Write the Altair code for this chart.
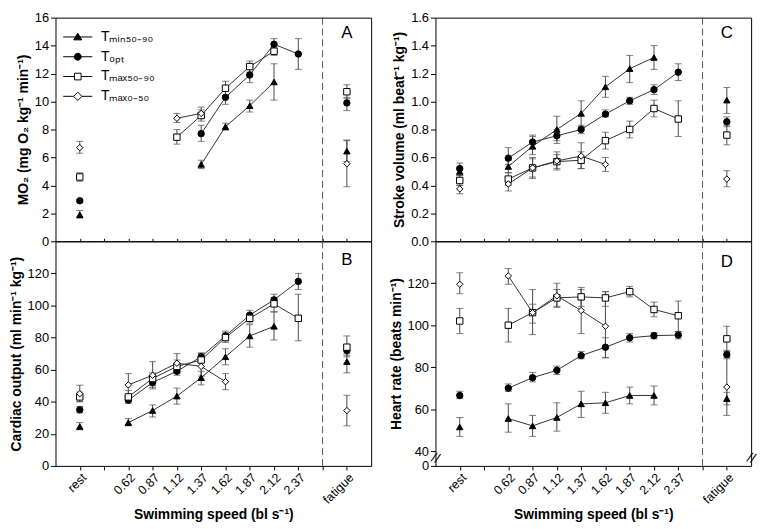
import altair as alt
import pandas as pd

# ---------------- categories / labels ----------------
x_labels = ["rest", "", "0.62", "0.87", "1.12", "1.37", "1.62", "1.87", "2.12", "2.37", "", "fatigue"]
x_ticks = list(range(len(x_labels)))
x_domain = [-1, 12]
separator_pos = [10]
swim_range = [2, 9]
series_names = ["Tₘᵢₙ₅₀₋₉₀", "Tₒₚₜ", "Tₘₐₓ₅₀₋₉₀", "Tₘₐₓ₀₋₅₀"]
series_shapes = ["triangle-up", "circle", "square", "diamond"]
series_fills = ["black", "black", "white", "white"]
series_strokes = ["black", "black", "black", "black"]
legend_paths = [
    "M-2.1,0H2.1M0,-0.55L0.58,0.42L-0.58,0.42Z",
    "M-2.1,0H2.1M0.5,0A0.5,0.5,0,1,1,-0.5,0A0.5,0.5,0,1,1,0.5,0Z",
    "M-2.1,0H-0.48M0.48,0H2.1M-0.48,-0.48H0.48V0.48H-0.48Z",
    "M-2.1,0H-0.6M0.6,0H2.1M0,-0.6L0.6,0L0,0.6L-0.6,0Z",
]

# ---------------- Panel A: MO2 ----------------
a_tmin_x = [0, 5, 6, 7, 8, 11]
a_tmin_y = [1.9, 5.5, 8.2, 9.7, 11.4, 6.45]
a_tmin_lo = [1.65, 5.2, 7.95, 9.25, 10.1, 5.7]
a_tmin_hi = [2.2, 5.8, 8.45, 10.1, 12.7, 7.25]
a_topt_x = [0, 5, 6, 7, 8, 9, 11]
a_topt_y = [2.9, 7.7, 10.3, 11.9, 14.1, 13.4, 9.9]
a_topt_lo = [2.8, 7.15, 9.8, 11.35, 13.7, 12.3, 9.35]
a_topt_hi = [3.0, 8.3, 10.8, 12.45, 14.5, 14.5, 10.3]
a_tmax_x = [0, 4, 5, 6, 7, 8, 11]
a_tmax_y = [4.6, 7.45, 9.0, 10.95, 12.5, 13.6, 10.7]
a_tmax_lo = [4.3, 6.95, 8.6, 10.4, 12.1, 13.3, 10.2]
a_tmax_hi = [4.9, 8.0, 9.4, 11.45, 12.9, 13.9, 11.2]
a_tmax0_x = [0, 4, 5, 11]
a_tmax0_y = [6.7, 8.8, 9.15, 5.55]
a_tmax0_lo = [6.3, 8.5, 8.85, 3.9]
a_tmax0_hi = [7.15, 9.15, 9.6, 7.2]

# ---------------- Panel B: cardiac output ----------------
b_tmin_x = [0, 2, 3, 4, 5, 6, 7, 8, 11]
b_tmin_y = [24.5, 27, 34.5, 43.5, 55, 68, 81, 87, 65]
b_tmin_lo = [22.5, 25, 30.5, 38.5, 50.5, 63, 74, 78.5, 58]
b_tmin_hi = [27, 29.5, 38, 48.5, 59, 73, 88, 96, 70]
b_topt_x = [0, 2, 3, 4, 5, 6, 7, 8, 9, 11]
b_topt_y = [35, 41, 52, 59, 68, 81, 94, 103.5, 115, 72]
b_topt_lo = [33, 39, 49, 56.5, 65, 78, 91, 100, 110, 69]
b_topt_hi = [37, 43, 55, 61.5, 70.5, 84, 97, 107, 120, 75]
b_tmax_x = [0, 2, 3, 4, 5, 6, 7, 8, 9, 11]
b_tmax_y = [43, 43, 54.5, 62, 66, 80, 92, 101, 92, 74]
b_tmax_lo = [40, 40, 50, 58, 62, 77, 89, 96, 78, 68]
b_tmax_hi = [46, 47, 58, 66, 70, 83, 95, 105, 107, 81]
b_tmax0_x = [0, 2, 3, 4, 5, 6, 11]
b_tmax0_y = [45, 50.5, 56.5, 64, 62, 52.5, 34.5]
b_tmax0_lo = [40, 43, 48, 58, 56, 47.5, 25]
b_tmax0_hi = [50.3, 57.5, 65, 70, 68, 57.5, 44]

# ---------------- Panel C: stroke volume ----------------
c_tmin_x = [0, 2, 3, 4, 5, 6, 7, 8, 11]
c_tmin_y = [0.50, 0.535, 0.68, 0.80, 0.915, 1.105, 1.235, 1.315, 1.01]
c_tmin_lo = [0.47, 0.49, 0.62, 0.70, 0.82, 1.03, 1.135, 1.23, 0.915]
c_tmin_hi = [0.53, 0.58, 0.75, 0.895, 1.005, 1.18, 1.33, 1.40, 1.10]
c_topt_x = [0, 2, 3, 4, 5, 6, 7, 8, 9, 11]
c_topt_y = [0.52, 0.595, 0.71, 0.755, 0.80, 0.91, 1.005, 1.085, 1.21, 0.855]
c_topt_lo = [0.48, 0.55, 0.66, 0.72, 0.77, 0.89, 0.98, 1.05, 1.15, 0.82]
c_topt_hi = [0.56, 0.67, 0.76, 0.80, 0.83, 0.94, 1.03, 1.12, 1.27, 0.89]
c_tmax_x = [0, 2, 3, 4, 5, 6, 7, 8, 9, 11]
c_tmax_y = [0.435, 0.445, 0.525, 0.57, 0.58, 0.72, 0.80, 0.95, 0.875, 0.76]
c_tmax_lo = [0.40, 0.40, 0.45, 0.52, 0.52, 0.66, 0.74, 0.89, 0.75, 0.69]
c_tmax_hi = [0.47, 0.49, 0.60, 0.62, 0.64, 0.78, 0.86, 1.01, 1.005, 0.83]
c_tmax0_x = [0, 2, 3, 4, 5, 6, 11]
c_tmax0_y = [0.375, 0.41, 0.525, 0.575, 0.61, 0.55, 0.445]
c_tmax0_lo = [0.34, 0.36, 0.46, 0.51, 0.52, 0.50, 0.39]
c_tmax0_hi = [0.40, 0.46, 0.59, 0.64, 0.705, 0.60, 0.505]

# ---------------- Panel D: heart rate ----------------
d_tmin_x = [0, 2, 3, 4, 5, 6, 7, 8, 11]
d_tmin_y = [51.5, 55.5, 52, 56, 62.5, 63, 66.5, 66.5, 65]
d_tmin_lo = [47, 49, 47, 49.5, 56, 58, 62.5, 62, 62]
d_tmin_hi = [56, 62.5, 57, 63, 68.5, 68, 70.5, 71, 68]
d_topt_x = [0, 2, 3, 4, 5, 6, 7, 8, 9, 11]
d_topt_y = [66.5, 70, 75, 78.5, 85.5, 89.5, 94, 95, 95.3, 86]
d_topt_lo = [65, 68.5, 73, 76.5, 84, 84.5, 92, 93.5, 93.5, 84.5]
d_topt_hi = [68.5, 72, 77.5, 80.5, 87.5, 94, 96, 96.5, 97, 88]
d_tmax_x = [0, 2, 3, 4, 5, 6, 7, 8, 9, 11]
d_tmax_y = [102, 100, 106, 113, 113.5, 113, 116, 107.5, 104.5, 93.5]
d_tmax_lo = [96, 92, 101, 109, 109, 109, 113.5, 104, 97, 87.5]
d_tmax_hi = [108, 108, 110, 117, 118, 116, 118.5, 111, 111.5, 99.5]
d_tmax0_x = [0, 2, 3, 4, 5, 6, 11]
d_tmax0_y = [119.5, 123.5, 106, 114, 107, 99.5, 70.5]
d_tmax0_lo = [115, 119.5, 95.5, 108.5, 96, 84.5, 57]
d_tmax0_hi = [125, 127, 117, 120, 117, 116, 84]

# ---------------- panel settings ----------------
panel_letters = ["A", "B", "C", "D"]
letter_y = [14.9, 128, 1.49, 130]
y_titles = ["MO₂ (mg O₂ kg⁻¹ min⁻¹)", "Cardiac output (ml min⁻¹ kg⁻¹)",
            "Stroke volume (ml beat⁻¹ kg⁻¹)", "Heart rate (beats min⁻¹)"]
x_title = "Swimming speed (bl s⁻¹)"
y_values_a = [0, 2, 4, 6, 8, 10, 12, 14, 16]
y_values_b = [0, 20, 40, 60, 80, 100, 120]
y_values_c = [0, 0.2, 0.4, 0.6, 0.8, 1.0, 1.2, 1.4, 1.6]
y_values_d = [0, 40, 60, 80, 100, 120]
break_y = [20]

W = 319
H_TOP = 226
H_BOT = 227
FONT = "Liberation Sans"
ERR_COLOR = "#4a4a4a"
LINE_COLOR = "#333333"


def frame(parts):
    rows = []
    for s, (xs, m, lo, hi) in zip(series_names, parts):
        for xi, mi, l, h in zip(xs, m, lo, hi):
            rows.append(dict(series=s, x=xi, y=mi, lo=l, hi=h))
    return pd.DataFrame(rows)


df_a = frame([(a_tmin_x, a_tmin_y, a_tmin_lo, a_tmin_hi), (a_topt_x, a_topt_y, a_topt_lo, a_topt_hi),
              (a_tmax_x, a_tmax_y, a_tmax_lo, a_tmax_hi), (a_tmax0_x, a_tmax0_y, a_tmax0_lo, a_tmax0_hi)])
df_b = frame([(b_tmin_x, b_tmin_y, b_tmin_lo, b_tmin_hi), (b_topt_x, b_topt_y, b_topt_lo, b_topt_hi),
              (b_tmax_x, b_tmax_y, b_tmax_lo, b_tmax_hi), (b_tmax0_x, b_tmax0_y, b_tmax0_lo, b_tmax0_hi)])
df_c = frame([(c_tmin_x, c_tmin_y, c_tmin_lo, c_tmin_hi), (c_topt_x, c_topt_y, c_topt_lo, c_topt_hi),
              (c_tmax_x, c_tmax_y, c_tmax_lo, c_tmax_hi), (c_tmax0_x, c_tmax0_y, c_tmax0_lo, c_tmax0_hi)])
df_d = frame([(d_tmin_x, d_tmin_y, d_tmin_lo, d_tmin_hi), (d_topt_x, d_topt_y, d_topt_lo, d_topt_hi),
              (d_tmax_x, d_tmax_y, d_tmax_lo, d_tmax_hi), (d_tmax0_x, d_tmax0_y, d_tmax0_lo, d_tmax0_hi)])

label_expr = "[" + ",".join("'%s'" % l for l in x_labels) + "][datum.value]"


def panel(df, yscale, yvalues, yfmt, ytitle, letter, ly, bottom, height, legend=False, breaks=False):
    xscale = alt.Scale(domain=x_domain, nice=False, zero=False)
    if bottom:
        xaxis = alt.Axis(values=x_ticks, labelExpr=label_expr, labelAngle=-45, labelAlign="right",
                         labelBaseline="top", labelPadding=1, tickSize=4, domain=False, grid=False,
                         title=x_title, titleFontSize=14, titleFontWeight="bold", titlePadding=2,
                         labelFontSize=12.5, labelOverlap=False, labelBound=False, labelFlush=False)
    else:
        xaxis = alt.Axis(values=x_ticks, labels=False, tickSize=3, offset=-3, domain=False,
                         grid=False, title=None)
    yaxis = alt.Axis(values=yvalues, format=yfmt, title=ytitle, tickSize=5, labelPadding=2,
                     domain=False, grid=False, titleFontSize=14, titleFontWeight="bold",
                     titlePadding=4, labelFontSize=13, labelOverlap=False, labelFlush=False)

    def X(field="x:Q"):
        return alt.X(field, scale=xscale, axis=xaxis)

    def Y(field):
        return alt.Y(field, scale=yscale, axis=yaxis)

    err = alt.Chart(df).mark_rule(color=ERR_COLOR, strokeWidth=1).encode(
        x=X(), y=Y("lo:Q"), y2="hi:Q")
    sep = alt.Chart(pd.DataFrame({"x": separator_pos})).mark_rule(
        color="#555555", strokeDash=[7, 4], strokeWidth=1
    ).encode(x=X())
    cap_lo = alt.Chart(df).mark_tick(orient="horizontal", size=7, thickness=1, color=ERR_COLOR).encode(
        x=X(), y=Y("lo:Q"))
    cap_hi = alt.Chart(df).mark_tick(orient="horizontal", size=7, thickness=1, color=ERR_COLOR).encode(
        x=X(), y=Y("hi:Q"))

    df_line = df[df["x"].between(swim_range[0], swim_range[1])]
    line = alt.Chart(df_line).mark_line(color=LINE_COLOR, strokeWidth=1).encode(
        x=X(), y=Y("y:Q"), detail="series:N", order="x:Q")

    layers = [err, sep, cap_lo, cap_hi, line]
    for s, shp, fc in zip(series_names, series_shapes, series_fills):
        pts = alt.Chart(df[df["series"] == s]).mark_point(
            shape=shp, filled=True, fill=fc, stroke="black", strokeWidth=1, size=42, opacity=1
        ).encode(x=X(), y=Y("y:Q"))
        layers.append(pts)

    txt = alt.Chart(pd.DataFrame({"x": [x_ticks[-1]], "y": [ly], "t": [letter]})).mark_text(
        fontSize=17, font=FONT, color="black", baseline="middle", align="center"
    ).encode(x=X(), y=Y("y:Q"), text="t:N")
    layers.append(txt)

    if breaks:
        bdf = pd.DataFrame({"x": x_domain, "y": break_y * len(x_domain), "t": ["//"] * len(x_domain)})
        brk = alt.Chart(bdf).mark_text(fontSize=14, font=FONT, color="black", angle=20).encode(
            x=X(), y=Y("y:Q"), text="t:N")
        layers.append(brk)

    if legend:
        leg = alt.Legend(orient="none", legendX=15, legendY=12, title=None, symbolSize=196,
                         symbolStrokeWidth=1, symbolStrokeColor="black", symbolOpacity=1,
                         labelFontSize=14, labelFont=FONT, labelOffset=16, rowPadding=5, padding=0,
                         labelColor="black")
        lg = alt.Chart(df).mark_point(size=196, opacity=0, strokeWidth=1).encode(
            x=X(), y=Y("y:Q"),
            shape=alt.Shape("series:N", scale=alt.Scale(domain=series_names, range=legend_paths), legend=leg),
            fill=alt.Fill("series:N", scale=alt.Scale(domain=series_names, range=series_fills), legend=leg),
            stroke=alt.Stroke("series:N", scale=alt.Scale(domain=series_names, range=series_strokes), legend=leg),
        )
        layers.append(lg)

    return alt.layer(*layers).properties(width=W, height=height)


scale_a = alt.Scale(domain=[0, 16], nice=False, zero=False)
scale_b = alt.Scale(domain=[0, 140], nice=False, zero=False)
scale_c = alt.Scale(domain=[0, 1.6], nice=False, zero=False)
scale_d = alt.Scale(domain=[0, 40, 140], range=[H_BOT, H_BOT - 15, 0], nice=False, zero=False)

pa = panel(df_a, scale_a, y_values_a, "d", y_titles[0], panel_letters[0], letter_y[0], False, H_TOP, legend=True)
pb = panel(df_b, scale_b, y_values_b, "d", y_titles[1], panel_letters[1], letter_y[1], True, H_BOT)
pc = panel(df_c, scale_c, y_values_c, ".1f", y_titles[2], panel_letters[2], letter_y[2], False, H_TOP)
pd_ = panel(df_d, scale_d, y_values_d, "d", y_titles[3], panel_letters[3], letter_y[3], True, H_BOT, breaks=True)

left = alt.vconcat(pa, pb, spacing=0, bounds="flush")
right = alt.vconcat(pc, pd_, spacing=0, bounds="flush")

chart = alt.hconcat(left, right, spacing=16).properties(
    padding={"left": 0, "top": 0, "right": 4, "bottom": 4}
).configure(font=FONT).configure_view(
    stroke="black", strokeWidth=1
).configure_axis(
    labelColor="black", titleColor="black", tickColor="black", labelFont=FONT, titleFont=FONT
)

chart.save("out.html", embed_options={"renderer": "svg", "actions": False})
